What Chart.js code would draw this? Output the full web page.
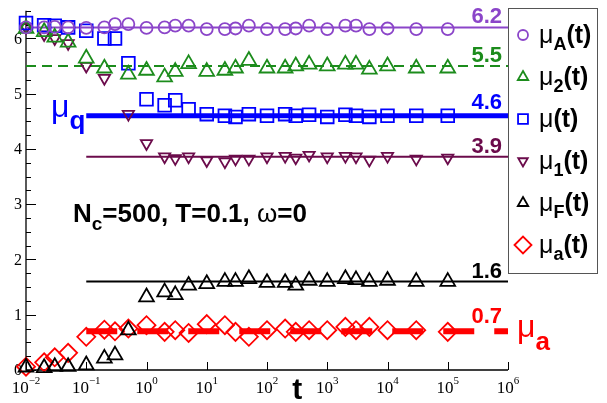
<!doctype html>
<html>
  <head>
    <title>mu relaxation</title>
    <script src="https://cdn.jsdelivr.net/npm/chart.js@4.4.0/dist/chart.umd.min.js"></script>
    <style>
    html, body { margin: 0; padding: 0; background: #fff; }
    canvas { display: block; }
    </style>
  </head>

  <body>
    <canvas id="canvas" width="607" height="403"></canvas>

    <script>
      // sampling times (log spaced)
      const times = [0.01, 0.02, 0.03, 0.05, 0.1, 0.2, 0.3, 0.5, 1, 2, 3, 5, 10, 20, 30, 50,
                     100, 200, 300, 500, 1000, 2000, 3000, 5000, 1e4, 3e4, 1e5];

      const muA = [6.2, 6.2, 6.21, 6.2, 6.19, 6.2, 6.26, 6.26, 6.19, 6.2, 6.23, 6.23, 6.17, 6.17,
                   6.18, 6.23, 6.17, 6.17, 6.18, 6.23, 6.17, 6.23, 6.23, 6.17, 6.18, 6.17, 6.17];
      const mu2 = [6.18, 6.12, 6.02, 5.93, 5.64, 5.46, null, 5.35, 5.42, 5.3, 5.4, 5.54, 5.4, 5.42,
                   5.46, 5.6, 5.46, 5.46, 5.5, 5.53, 5.5, 5.53, 5.53, 5.44, 5.5, 5.46, 5.46];
      const mu = [6.28, 6.24, 6.23, 6.2, 6.14, 6.0, 6.0, 5.55, 4.9, 4.79, 4.88, 4.72, 4.63, 4.6,
                  4.58, 4.63, 4.6, 4.63, 4.6, 4.62, 4.58, 4.62, 4.6, 4.58, 4.6, 4.6, 4.6];
      const mu1 = [6.2, 6.07, 6.0, 5.91, 5.5, 5.28, null, 4.63, 4.1, 3.86, 3.83, 3.86, 3.79, 3.77,
                   3.82, 3.82, 3.86, 3.87, 3.84, 3.89, 3.86, 3.87, 3.86, 3.8, 3.87, 3.82, 3.84];
      const muF = [0.05, 0.04, 0.06, 0.06, 0.09, 0.21, 0.27, 0.72, 1.32, 1.41, 1.36, 1.53, 1.56, 1.6,
                   1.6, 1.65, 1.58, 1.58, 1.53, 1.62, 1.6, 1.65, 1.63, 1.6, 1.62, 1.6, 1.6];
      const mua = [0.06, 0.14, 0.23, 0.31, 0.6, 0.73, 0.7, 0.75, 0.81, 0.69, 0.72, 0.67, 0.83, 0.81,
                   0.69, 0.6, 0.72, 0.75, 0.69, 0.72, 0.72, 0.78, 0.72, 0.78, 0.72, 0.72, 0.69];

      // plateau levels
      const levels = [6.2, 5.5, 4.6, 3.86, 1.6, 0.7];
      const levelText = ['6.2', '5.5', '4.6', '3.9', '1.6', '0.7'];
      const levelFrom = [0.01, 0.01, 0.1, 0.1, 0.1, 0.1];
      const levelTo = 1e6;

      const xExponents = [-2, -1, 0, 1, 2, 3, 4, 5, 6];
      const yTicks = [0, 1, 2, 3, 4, 5, 6];

      const PURPLE = '#8b45c9', GREEN = '#1c8c1c', BLUE = '#0000ff',
            MAROON = '#6b0b4b', BLACK = '#000000', RED = '#ff0000';

      const SANS = '"Liberation Sans", Arial, sans-serif';
      const SERIF = '"Liberation Serif", "Times New Roman", serif';

      function pts(arr) {
        return times.map((t, i) => ({x: t, y: arr[i]}));
      }

      function markerSet(label, sub, arr, color, style, radius, rotation) {
        return {
          label: label, sub: sub, data: pts(arr), showLine: false,
          pointStyle: style, pointRadius: radius, pointHoverRadius: radius,
          pointRotation: rotation || 0, pointBorderColor: color,
          pointBackgroundColor: 'rgba(0,0,0,0)', pointBorderWidth: 1.8,
          borderColor: color, clip: false, order: 1
        };
      }

      const lineColors = [PURPLE, GREEN, BLUE, MAROON, BLACK, RED];
      const lineWidths = [2, 2, 5, 2, 2, 6];
      const lineDash = [[], [10, 6], [], [], [], [31, 20]];

      const datasets = [
        markerSet('\u03bc', 'A', muA, PURPLE, 'circle', 6),
        markerSet('\u03bc', '2', mu2, GREEN, 'triangle', 8.5),
        markerSet('\u03bc', '', mu, BLUE, 'rect', 9),
        markerSet('\u03bc', '1', mu1, MAROON, 'triangle', 6.5, 180),
        markerSet('\u03bc', 'F', muF, BLACK, 'triangle', 8.5),
        markerSet('\u03bc', 'a', mua, RED, 'rectRot', 9)
      ];
      levels.forEach(function(v, i) {
        datasets.push({
          label: 'level' + i, isLevel: true, showLine: true,
          data: [{x: levelFrom[i], y: v}, {x: levelTo, y: v}],
          borderColor: lineColors[i], borderWidth: lineWidths[i], borderDash: lineDash[i],
          borderCapStyle: 'butt', pointRadius: 0, fill: false, order: 5
        });
      });

      function richText(ctx, x, y, parts, color) {
        ctx.save();
        ctx.fillStyle = color;
        ctx.textBaseline = 'alphabetic';
        ctx.textAlign = 'left';
        parts.forEach(function(p) {
          ctx.font = (p.bold ? 'bold ' : '') + p.size + 'px ' + (p.family || SANS);
          ctx.fillText(p.t, x, y + (p.dy || 0));
          x += ctx.measureText(p.t).width;
        });
        ctx.restore();
        return x;
      }

      function marker(ctx, ds, x, y, r) {
        ctx.save();
        ctx.strokeStyle = ds.pointBorderColor;
        ctx.fillStyle = 'rgba(0,0,0,0)';
        ctx.lineWidth = 1.8;
        Chart.helpers.drawPoint(ctx, {pointStyle: ds.pointStyle, rotation: ds.pointRotation,
                                      radius: r, borderWidth: 1.8}, x, y);
        ctx.restore();
      }

      const axesPlugin = {
        id: 'axesPlugin',
        beforeDatasetsDraw(chart) {
          const ctx = chart.ctx, xs = chart.scales.x, ys = chart.scales.y;
          const a = chart.chartArea;
          ctx.save();
          ctx.strokeStyle = '#000';
          ctx.lineWidth = 1.3;
          ctx.beginPath();
          ctx.moveTo(a.left, a.top);
          ctx.lineTo(a.left, a.bottom);
          ctx.lineTo(a.right, a.bottom);
          ctx.stroke();
          // y ticks, inward
          ctx.lineWidth = 1;
          for (let v = 0; v <= 6.5 + 1e-9; v += 0.25) {
            const py = Math.round(ys.getPixelForValue(v)) + 0.5;
            const len = Math.abs(v - Math.round(v)) < 1e-9 ? 10 : 5;
            ctx.beginPath();
            ctx.moveTo(a.left, py);
            ctx.lineTo(a.left + len, py);
            ctx.stroke();
          }
          xExponents.forEach(function(e) {
            const px = Math.round(xs.getPixelForValue(Math.pow(10, e))) + 0.5;
            ctx.beginPath();
            ctx.moveTo(px, a.bottom);
            ctx.lineTo(px, a.bottom - 8);
            ctx.stroke();
          });
          // tick labels
          ctx.fillStyle = '#000';
          ctx.font = '16px ' + SERIF;
          ctx.textAlign = 'right';
          ctx.textBaseline = 'middle';
          yTicks.forEach(function(v) {
            ctx.fillText(String(v), a.left - 4, ys.getPixelForValue(v) + 1);
          });
          xExponents.forEach(function(e) {
            const px = xs.getPixelForValue(Math.pow(10, e));
            ctx.font = '17px ' + SERIF;
            const w1 = ctx.measureText('10').width;
            const exp = String(e).replace('-', '\u2212');
            ctx.font = '11px ' + SERIF;
            const w2 = ctx.measureText(exp).width;
            const x0 = px - (w1 + w2) / 2;
            richText(ctx, x0, a.bottom + 23, [
              {t: '10', size: 17, family: SERIF},
              {t: exp, size: 11, family: SERIF, dy: -9}
            ], '#000');
          });
          ctx.restore();
        },
        afterDraw(chart) {
          const ctx = chart.ctx, xs = chart.scales.x, ys = chart.scales.y;
          const a = chart.chartArea;
          // axis title
          ctx.save();
          ctx.fillStyle = '#000';
          ctx.font = 'bold 30px ' + SANS;
          ctx.textAlign = 'center';
          ctx.textBaseline = 'alphabetic';
          ctx.fillText('t', (xs.getPixelForValue(1e2) + xs.getPixelForValue(1e3)) / 2, 399);
          ctx.restore();

          // plateau values
          const lift = [4, 4, 7, 4, 4, 8];
          levels.forEach(function(v, i) {
            ctx.save();
            ctx.font = 'bold 22px ' + SANS;
            ctx.fillStyle = lineColors[i];
            ctx.textAlign = 'right';
            ctx.fillText(levelText[i], a.right - 6, ys.getPixelForValue(v) - lift[i]);
            ctx.restore();
          });

          // mu_a and mu_q tags
          const ya = ys.getPixelForValue(levels[5]);
          richText(ctx, a.right + 9, ya + 6, [
            {t: '\u03bc', size: 32},
            {t: 'a', size: 26, bold: true, dy: 13}
          ], RED);
          const yq = ys.getPixelForValue(levels[2]);
          richText(ctx, 51, yq + 1, [
            {t: '\u03bc', size: 32},
            {t: 'q', size: 26, bold: true, dy: 12}
          ], BLUE);

          // parameters
          richText(ctx, 73, 222, [
            {t: 'N', size: 26, bold: true},
            {t: 'c', size: 19, bold: true, dy: 8},
            {t: '=500, T=0.1, ', size: 26, bold: true},
            {t: '\u03c9', size: 26},
            {t: '=0', size: 26, bold: true}
          ], '#000');

          // legend box
          const lx = a.right, ly = 8, lw = 89, lh = 265;
          ctx.save();
          ctx.fillStyle = '#fff';
          ctx.fillRect(lx, ly, lw, lh);
          ctx.strokeStyle = '#555';
          ctx.lineWidth = 1;
          ctx.strokeRect(lx + 0.5, ly + 0.5, lw, lh);
          ctx.restore();
          const legR = [5, 6, 7, 5.5, 6, 8.5];
          chart.data.datasets.filter(d => !d.isLevel).forEach(function(ds, i) {
            const cy = 35 + 42 * i;
            marker(ctx, ds, lx + 15, cy, legR[i]);
            const parts = [{t: ds.label, size: 25}];
            if (ds.sub) parts.push({t: ds.sub, size: 18, bold: true, dy: 7});
            parts.push({t: '(t)', size: 25, bold: true});
            richText(ctx, lx + 31, cy + 8, parts, '#000');
          });
        }
      };

      const config = {
        type: 'scatter',
        data: {datasets: datasets},
        options: {
          responsive: false,
          animation: false,
          events: [],
          layout: {padding: {left: 26, right: 99, top: 9, bottom: 33}},
          plugins: {legend: {display: false}, tooltip: {enabled: false}},
          scales: {
            x: {type: 'logarithmic', min: 0.01, max: 1e6, display: false},
            y: {type: 'linear', min: 0, max: 6.5, display: false}
          }
        },
        plugins: [axesPlugin]
      };

      window.onload = function() {
        let ctx = document.getElementById('canvas').getContext('2d');
        window.myChart = new Chart(ctx, config);
      };
    </script>
  </body>
</html>
